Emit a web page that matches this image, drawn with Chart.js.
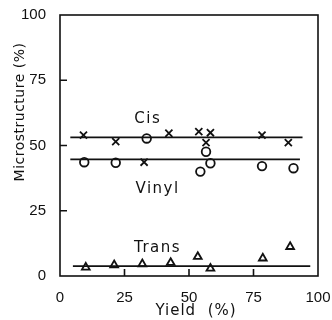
<!DOCTYPE html>
<html>
<head>
<meta charset="utf-8">
<script src="https://cdn.jsdelivr.net/npm/chart.js@4"></script>
<style>
  html, body { margin: 0; padding: 0; background: #fff; }
  #wrap { width: 332px; height: 320px; }
</style>
</head>
<body>
<div id="wrap"><canvas id="myChart"></canvas></div>
<script>
// values
var xTicks = [0, 25, 50, 75, 100];
var yTicks = [0, 25, 50, 75, 100];

var cisYield = [9.1, 21.6, 33.6, 42.2, 53.8, 58.3, 56.6, 78.3, 88.5];
var cisValue = [54.0, 51.5, 52.7, 54.7, 55.3, 54.9, 51.1, 54.0, 51.1];
var cisMarks = ['crossRot', 'crossRot', 'circle', 'crossRot', 'crossRot', 'crossRot', 'crossRot', 'crossRot', 'crossRot'];

var vinylYield = [9.4, 21.6, 32.6, 54.4, 56.6, 58.3, 78.3, 90.5];
var vinylValue = [43.6, 43.4, 43.6, 40.0, 47.6, 43.2, 42.1, 41.3];
var vinylMarks = ['circle', 'circle', 'crossRot', 'circle', 'circle', 'circle', 'circle', 'circle'];

var transYield = [10.0, 21.0, 31.9, 42.9, 53.4, 58.3, 78.6, 89.2];
var transValue = [3.3, 4.2, 4.6, 5.1, 7.4, 2.9, 6.8, 11.2];

// fitted horizontal lines: [x start, x end], level
var cisLineX = [4, 94], cisLevel = 53.1;
var vinylLineX = [4, 93], vinylLevel = 44.7;
var transLineX = [5, 97], transLevel = 3.8;

var seriesNames = ['Cis', 'Vinyl', 'Trans'];

function pts(xs, ys) {
  return xs.map(function(x, i) { return { x: x, y: ys[i] }; });
}
function flat(xs, level) {
  return xs.map(function(x) { return { x: x, y: level }; });
}
function markSize(marks) {
  return function(ctx) { return marks[ctx.dataIndex] === 'crossRot' ? 5 : 4.3; };
}

var lineStyle = { type: 'line', showLine: true, borderColor: '#111', borderWidth: 1.8, pointRadius: 0, fill: false };
var markStyle = { borderColor: '#111', backgroundColor: '#fff', borderWidth: 1.8 };

// text labels, axis titles, inner ticks and frame
var decor = {
  id: 'decor',
  afterDraw: function(chart) {
    var c = chart.ctx, a = chart.chartArea;
    var xs = chart.scales.x, ys = chart.scales.y;
    c.save();
    c.strokeStyle = '#111';
    c.lineWidth = 1.6;
    c.strokeRect(a.left, a.top, a.right - a.left, a.bottom - a.top);
    c.beginPath();
    [25, 50, 75].forEach(function(v) {
      var py = ys.getPixelForValue(v);
      c.moveTo(a.left, py); c.lineTo(a.left + 7, py);
      var px = xs.getPixelForValue(v);
      c.moveTo(px, a.bottom); c.lineTo(px, a.bottom - 7);
    });
    c.stroke();

    c.fillStyle = '#111';
    c.textAlign = 'center';
    c.textBaseline = 'middle';
    c.font = '15px "DejaVu Sans"';
    c.letterSpacing = '1.5px';
    var lab = [[34, 60.2], [37.8, 33.3], [37.8, 10.7]];
    seriesNames.forEach(function(n, i) {
      c.fillText(n, xs.getPixelForValue(lab[i][0]), ys.getPixelForValue(lab[i][1]));
    });

    c.letterSpacing = '1px';
    c.font = '15px "DejaVu Sans"';
    c.fillText('Yield  (%)', 196, 311);
    c.translate(20, 112);
    c.rotate(-Math.PI / 2);
    c.letterSpacing = '0.5px';
    c.font = '14px "DejaVu Sans"';
    c.fillText('Microstructure (%)', 0, 0);
    c.restore();
  }
};

var chart = new Chart('myChart', {
  type: 'scatter',
  data: {
    datasets: [
      Object.assign({ data: flat(cisLineX, cisLevel) }, lineStyle),
      Object.assign({ data: flat(vinylLineX, vinylLevel) }, lineStyle),
      Object.assign({ data: flat(transLineX, transLevel) }, lineStyle),
      Object.assign({ data: pts(cisYield, cisValue), pointStyle: cisMarks, pointRadius: markSize(cisMarks) }, markStyle),
      Object.assign({ data: pts(vinylYield, vinylValue), pointStyle: vinylMarks, pointRadius: markSize(vinylMarks) }, markStyle),
      Object.assign({ data: pts(transYield, transValue), pointStyle: 'triangle', pointRadius: 4.5 }, markStyle)
    ]
  },
  options: {
    responsive: true,
    maintainAspectRatio: false,
    animation: false,
    layout: { padding: { left: 0, right: 14, top: 15, bottom: 0 } },
    plugins: { legend: { display: false }, tooltip: { enabled: false } },
    scales: {
      x: {
        type: 'linear', min: 0, max: 100,
        afterBuildTicks: function(s) { s.ticks = xTicks.map(function(v) { return { value: v }; }); },
        afterFit: function(s) { s.height = 44; s.paddingLeft = 0; s.paddingRight = 0; },
        grid: { display: false },
        border: { display: false },
        ticks: { color: '#111', padding: 5, font: { family: 'Liberation Sans', size: 15 }, maxRotation: 0 }
      },
      y: {
        type: 'linear', min: 0, max: 100,
        afterBuildTicks: function(s) { s.ticks = yTicks.map(function(v) { return { value: v }; }); },
        afterFit: function(s) { s.width = 60; s.paddingTop = 0; s.paddingBottom = 0; },
        grid: { display: false },
        border: { display: false },
        ticks: { color: '#111', padding: 6, font: { family: 'Liberation Sans', size: 15 } }
      }
    }
  },
  plugins: [decor]
});
</script>
</body>
</html>
